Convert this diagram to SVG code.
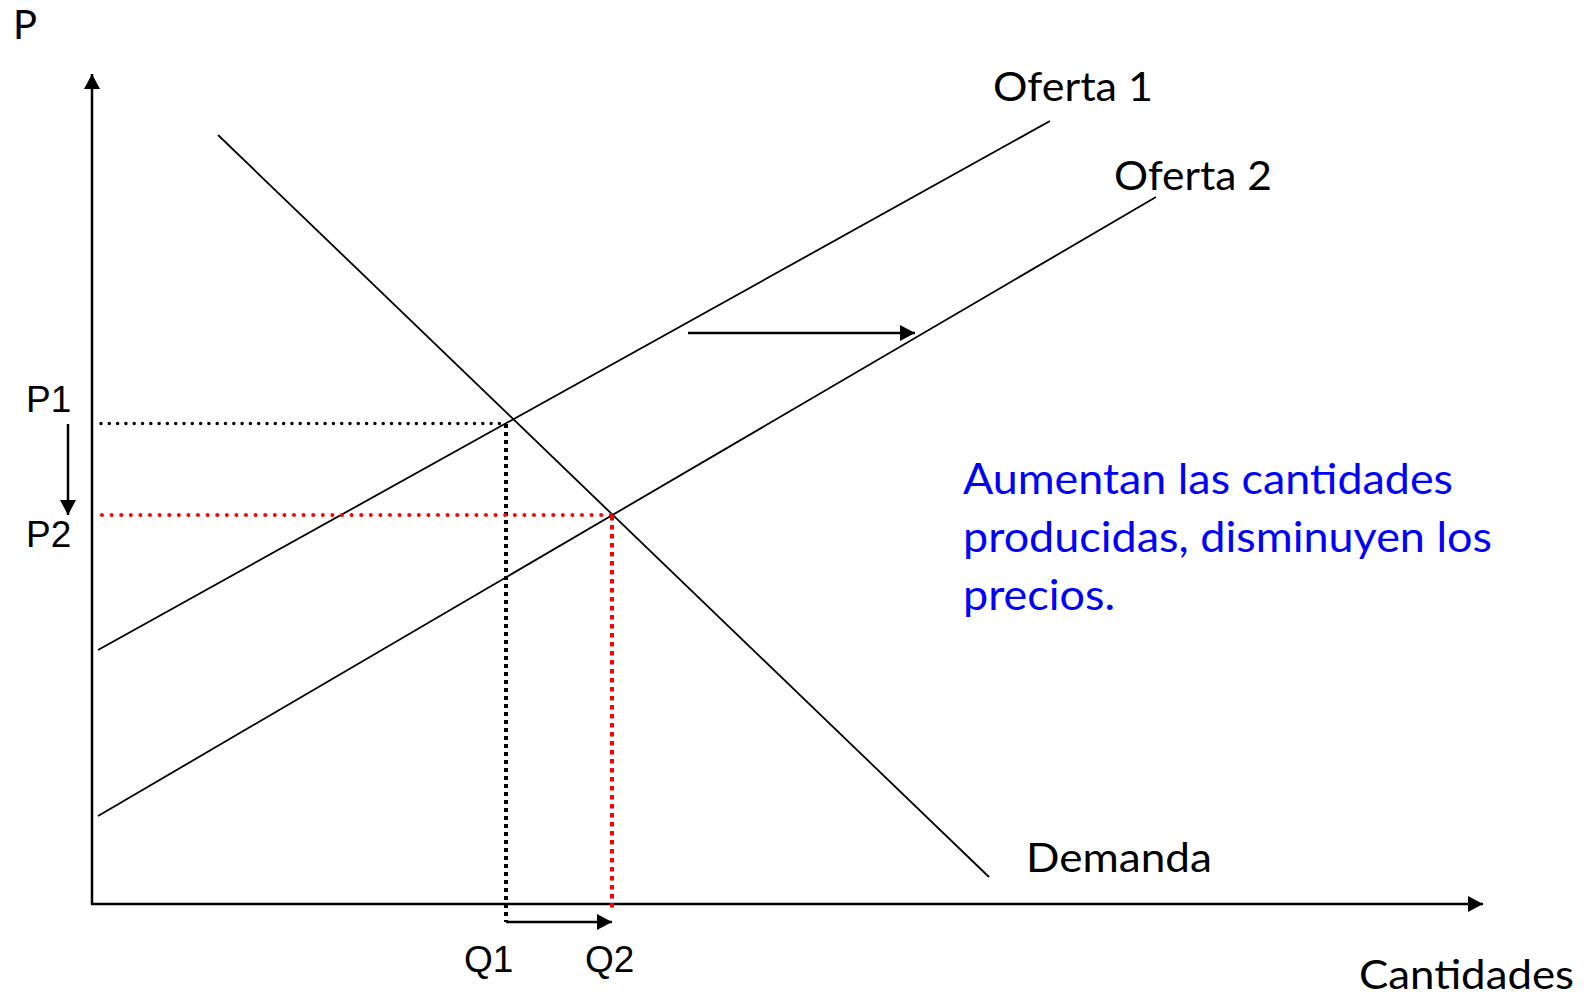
<svg xmlns="http://www.w3.org/2000/svg" width="1593" height="998" viewBox="0 0 1593 998">
  <style>
    .lbl { font-family: Lato, "Noto Sans", sans-serif; font-size: 40px; fill: #000; }
    .blue { font-family: Lato, "Noto Sans", sans-serif; font-size: 43px; fill: #0000FF; }
    .ar { font-family: "Liberation Sans", Arial, sans-serif; font-size: 37px; fill: #000; }
    .ln { stroke: #000; stroke-width: 1.8; fill: none; }
    .axis { stroke: #000; stroke-width: 2.5; fill: none; }
    .arr { stroke: #000; stroke-width: 2.5; fill: none; }
    .dotk { stroke: #000; stroke-width: 3.5; stroke-linecap: round; stroke-dasharray: 0 8.3; fill: none; }
    .dotr { stroke: #FF0000; stroke-width: 4; stroke-linecap: round; stroke-dasharray: 0 9.6; fill: none; }
    .dashk { stroke: #000; stroke-width: 4; stroke-dasharray: 4 4; fill: none; }
    .dashr { stroke: #FF0000; stroke-width: 4; stroke-dasharray: 4.5 4.5; fill: none; }
  </style>
  <defs>
    <marker id="head" viewBox="0 0 15 16" refX="15" refY="8" markerWidth="15" markerHeight="16" markerUnits="userSpaceOnUse" orient="auto">
      <path d="M0,0 L15,8 L0,16 Z" fill="#000"/>
    </marker>
  </defs>
  <g id="axes">
    <line class="axis" x1="92" y1="904" x2="92" y2="74" marker-end="url(#head)"/>
    <line class="axis" x1="91" y1="904" x2="1483" y2="904" marker-end="url(#head)"/>
  </g>
  <g id="curves">
    <line id="demanda-line" class="ln" x1="218" y1="135" x2="989" y2="877"/>
    <line id="oferta1-line" class="ln" x1="98" y1="650" x2="1050" y2="121"/>
    <line id="oferta2-line" class="ln" x1="98" y1="816" x2="1156" y2="197"/>
  </g>
  <g id="connectors">
    <line class="dotk" x1="101" y1="423.5" x2="506" y2="423.5"/>
    <line class="dashk" x1="506" y1="424" x2="506" y2="922"/>
    <line class="dotr" x1="102" y1="515" x2="612" y2="515"/>
    <line class="dashr" x1="612" y1="516" x2="612" y2="912"/>
    <line class="arr" x1="506" y1="922" x2="612" y2="922" marker-end="url(#head)"/>
    <line class="arr" x1="68" y1="424" x2="68" y2="515" marker-end="url(#head)"/>
    <line class="arr" x1="688" y1="333" x2="915" y2="333" marker-end="url(#head)"/>
  </g>
  <g id="labels">
    <text class="lbl" x="13" y="39">P</text>
    <text class="lbl" x="993" y="101" textLength="160" lengthAdjust="spacingAndGlyphs">Oferta 1</text>
    <text class="lbl" x="1114" y="190" textLength="158" lengthAdjust="spacingAndGlyphs">Oferta 2</text>
    <text class="lbl" x="1026" y="872" textLength="186" lengthAdjust="spacingAndGlyphs">Demanda</text>
    <text class="lbl" x="1359" y="989" textLength="215" lengthAdjust="spacingAndGlyphs">Cantidades</text>
    <text class="ar" x="26" y="412">P1</text>
    <text class="ar" x="26" y="547">P2</text>
    <text class="ar" x="464" y="972">Q1</text>
    <text class="ar" x="585" y="972">Q2</text>
  </g>
  <g id="note">
    <text class="blue" x="963" y="494" textLength="490" lengthAdjust="spacingAndGlyphs">Aumentan las cantidades</text>
    <text class="blue" x="963" y="552" textLength="529" lengthAdjust="spacingAndGlyphs">producidas, disminuyen los</text>
    <text class="blue" x="963" y="610" textLength="152" lengthAdjust="spacingAndGlyphs">precios.</text>
  </g>
</svg>
